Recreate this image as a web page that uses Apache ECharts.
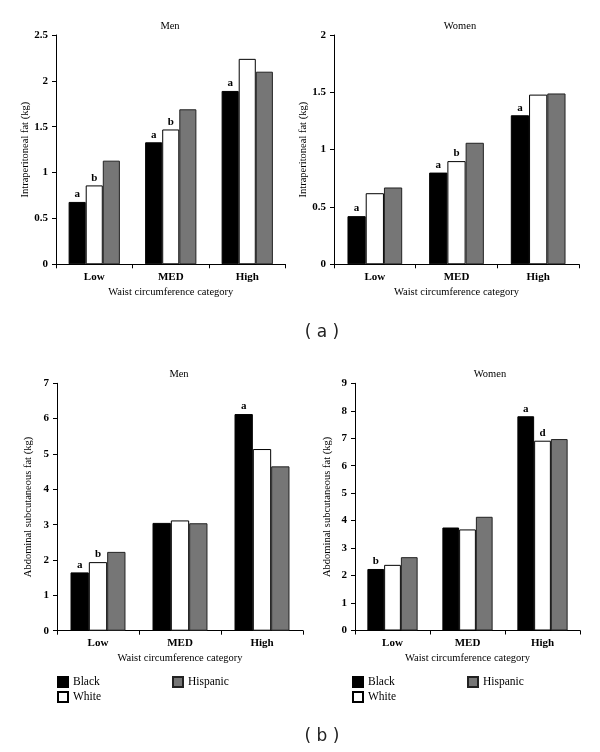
<!DOCTYPE html>
<html>
<head>
<meta charset="utf-8">
<script src="https://cdn.jsdelivr.net/npm/echarts@6/dist/echarts.min.js"></script>
<style>html,body{margin:0;padding:0;background:#fff;}#c{width:600px;height:752px;}</style>
</head>
<body>
<div id="c"></div>
<script>
// ---- data ----
const categories = ['Low', 'MED', 'High'];
const seriesNames = ['Black', 'White', 'Hispanic'];

// (a) Intraperitoneal fat (kg)
const menIntraBlack = [0.68, 1.33, 1.89];
const menIntraWhite = [0.86, 1.47, 2.24];
const menIntraHispanic = [1.13, 1.69, 2.10];
const womenIntraBlack = [0.42, 0.80, 1.30];
const womenIntraWhite = [0.62, 0.90, 1.48];
const womenIntraHispanic = [0.67, 1.06, 1.49];

// (b) Abdominal subcutaneous fat (kg)
const menSubqBlack = [1.65, 3.05, 6.13];
const menSubqWhite = [1.94, 3.12, 5.14];
const menSubqHispanic = [2.23, 3.04, 4.65];
const womenSubqBlack = [2.24, 3.75, 7.80];
const womenSubqWhite = [2.39, 3.68, 6.91];
const womenSubqHispanic = [2.67, 4.14, 6.97];

// significance letters
const menIntraLetBlack = ['a', 'a', 'a'];
const menIntraLetWhite = ['b', 'b', ''];
const womenIntraLetBlack = ['a', 'a', 'a'];
const womenIntraLetWhite = ['', 'b', ''];
const menSubqLetBlack = ['a', '', 'a'];
const menSubqLetWhite = ['b', '', ''];
const womenSubqLetBlack = ['b', '', 'a'];
const womenSubqLetWhite = ['', '', 'd'];
const noLetters = ['', '', ''];

const yTitleIntra = 'Intraperitoneal fat (kg)';
const yTitleSubq = 'Abdominal subcutaneous fat (kg)';
const xTitle = 'Waist circumference category';

// ---- styling ----
const SERIF = '"Liberation Serif", "DejaVu Serif", serif';
const fills = ['#000000', '#ffffff', '#767676'];
const borders = ['#000000', '#000000', '#222222'];

const panels = [
  {grid: {left: 56, top: 35, width: 229.5, height: 229.3}, max: 2.5, interval: 0.5, yName: yTitleIntra, yGap: 25,
   data: [menIntraBlack, menIntraWhite, menIntraHispanic], letters: [menIntraLetBlack, menIntraLetWhite, noLetters],
   title: 'Men', tx: 170, ty: 26},
  {grid: {left: 334, top: 35, width: 245, height: 229.3}, max: 2, interval: 0.5, yName: yTitleIntra, yGap: 23,
   data: [womenIntraBlack, womenIntraWhite, womenIntraHispanic], letters: [womenIntraLetBlack, womenIntraLetWhite, noLetters],
   title: 'Women', tx: 460, ty: 26},
  {grid: {left: 57, top: 383.3, width: 246, height: 247.4}, max: 7, interval: 1, yName: yTitleSubq, yGap: 23,
   data: [menSubqBlack, menSubqWhite, menSubqHispanic], letters: [menSubqLetBlack, menSubqLetWhite, noLetters],
   title: 'Men', tx: 179, ty: 374},
  {grid: {left: 355, top: 383.3, width: 225, height: 247.2}, max: 9, interval: 1, yName: yTitleSubq, yGap: 22,
   data: [womenSubqBlack, womenSubqWhite, womenSubqHispanic], letters: [womenSubqLetBlack, womenSubqLetWhite, noLetters],
   title: 'Women', tx: 490, ty: 374}
];

const axisLine = {show: true, lineStyle: {color: '#000', width: 1}};
const grids = [], xAxes = [], yAxes = [], series = [], graphics = [];

panels.forEach((p, i) => {
  grids.push(p.grid);
  xAxes.push({
    type: 'category', gridIndex: i, data: categories,
    axisLine: axisLine,
    axisTick: {show: true, length: 4, lineStyle: {color: '#000'}},
    axisLabel: {color: '#000', fontFamily: SERIF, fontSize: 11, fontWeight: 'bold', margin: 7},
    name: xTitle, nameLocation: 'middle', nameGap: 22,
    nameTextStyle: {color: '#000', fontFamily: SERIF, fontSize: 10.5}
  });
  yAxes.push({
    type: 'value', gridIndex: i, min: 0, max: p.max, interval: p.interval,
    axisLine: axisLine,
    axisTick: {show: true, length: 4, lineStyle: {color: '#000'}},
    splitLine: {show: false},
    axisLabel: {color: '#000', fontFamily: SERIF, fontSize: 11, fontWeight: 'bold', margin: 8},
    name: p.yName, nameLocation: 'middle', nameGap: p.yGap, nameRotate: 90,
    nameTextStyle: {color: '#000', fontFamily: SERIF, fontSize: 10.5}
  });
  p.data.forEach((vals, k) => {
    const lets = p.letters[k];
    series.push({
      type: 'bar', name: seriesNames[k], xAxisIndex: i, yAxisIndex: i,
      data: vals, barGap: 0, barCategoryGap: '33%',
      itemStyle: {color: fills[k], borderColor: borders[k], borderWidth: 1},
      emphasis: {disabled: true},
      label: {
        show: true, position: 'top', distance: 2,
        color: '#000', fontFamily: SERIF, fontSize: 11, fontWeight: 'bold',
        formatter: (q) => lets[q.dataIndex] || ''
      }
    });
  });
  graphics.push({
    type: 'text', x: p.tx, y: p.ty,
    style: {text: p.title, fill: '#000', font: '10.5px ' + SERIF, textAlign: 'center', textVerticalAlign: 'middle'}
  });
});

graphics.push({type: 'text', x: 322, y: 333,
  style: {text: '( a )', fill: '#222', font: '17px "DejaVu Sans", sans-serif', textAlign: 'center', textVerticalAlign: 'middle'}});
graphics.push({type: 'text', x: 322, y: 737,
  style: {text: '( b )', fill: '#222', font: '17px "DejaVu Sans", sans-serif', textAlign: 'center', textVerticalAlign: 'middle'}});

const legendText = {color: '#000', fontFamily: SERIF, fontSize: 11.5};
function mkLegend(left, top, names) {
  return {
    left: left, top: top, orient: 'vertical', data: names, padding: 0,
    itemWidth: 10, itemHeight: 10, itemGap: 3, icon: 'rect',
    selectedMode: false, textStyle: legendText
  };
}

const option = {
  animation: false,
  backgroundColor: '#fff',
  grid: grids,
  xAxis: xAxes,
  yAxis: yAxes,
  series: series,
  legend: [
    mkLegend(57, 676, ['Black', 'White']),
    mkLegend(172, 676, ['Hispanic']),
    mkLegend(352, 676, ['Black', 'White']),
    mkLegend(467, 676, ['Hispanic'])
  ],
  graphic: graphics
};

const chart = echarts.init(document.getElementById('c'), null, {renderer: 'canvas'});
chart.setOption(option);
</script>
</body>
</html>
